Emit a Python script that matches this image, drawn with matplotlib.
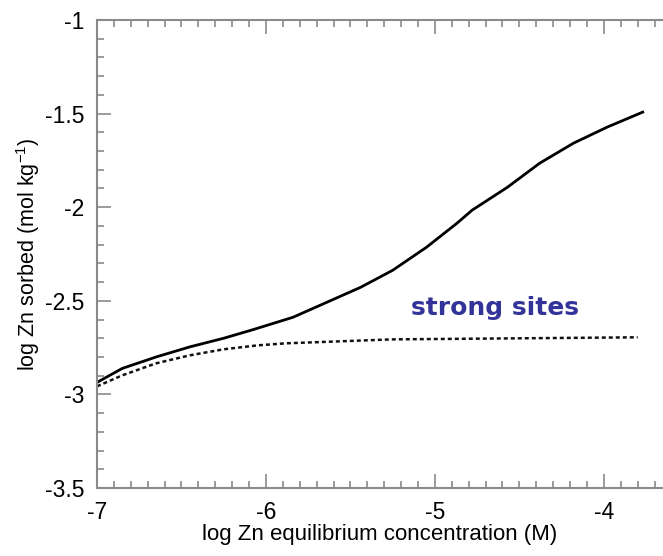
import numpy as np
import matplotlib.pyplot as plt
from matplotlib.ticker import MultipleLocator

# valeurs
x_total = [-7.0, -6.85, -6.65, -6.45, -6.25, -6.08, -5.84, -5.64, -5.44, -5.25,
           -5.05, -4.87, -4.78, -4.57, -4.38, -4.18, -3.98, -3.77]
y_total = [-2.936, -2.861, -2.80, -2.746, -2.70, -2.655, -2.588, -2.508, -2.428, -2.337,
           -2.214, -2.086, -2.016, -1.893, -1.765, -1.658, -1.572, -1.492]

x_strong = [-7.0, -6.85, -6.65, -6.45, -6.25, -6.05, -5.88, -5.25, -4.46, -3.8]
y_strong = [-2.957, -2.898, -2.834, -2.791, -2.759, -2.738, -2.727, -2.706, -2.70, -2.695]

plt.rcParams['font.family'] = ['Liberation Sans', 'DejaVu Sans']

fig = plt.figure(figsize=(6.63, 5.56), dpi=100)
ax = fig.add_axes([0.1463, 0.1223, 0.8537, 0.8417])

ax.plot(x_total, y_total, color='black', lw=2.0)
ax.plot(x_strong, y_strong, color='#111111', lw=1.8, linestyle=(0, (1.6, 1.2)))

ax.text(-4.645, -2.54, 'strong sites', color='#333399', fontsize=18,
        fontweight='bold', family='DejaVu Sans', ha='center', va='center')

ax.set_xlim(-7, -3.65)
ax.set_ylim(-3.5, -1)
ax.xaxis.set_minor_locator(MultipleLocator(0.1))
ax.yaxis.set_minor_locator(MultipleLocator(0.1))
ax.set_xticks([-7, -6, -5, -4])
ax.set_xticklabels(['-7', '-6', '-5', '-4'])
ax.set_yticks([-3.5, -3, -2.5, -2, -1.5, -1])
ax.set_yticklabels(['-3.5', '-3', '-2.5', '-2', '-1.5', '-1'])

ax.spines['right'].set_visible(False)
for s in ['left', 'top', 'bottom']:
    ax.spines[s].set_color('#8a8a8a')
    ax.spines[s].set_linewidth(1.5)

ax.tick_params(which='both', direction='in', top=True, right=False, color='#8a8a8a',
               labelsize=16.5, width=1.2)
ax.tick_params(which='major', length=10, pad=9)
ax.tick_params(which='minor', length=5)

ax.set_xlabel('log Zn equilibrium concentration (M)', fontsize=16)
ax.set_ylabel('log Zn sorbed (mol kg$^{\\mathregular{-1}}$)', fontsize=15.5)
ax.xaxis.set_label_coords(0.5, -0.1)
ax.yaxis.set_label_coords(-0.122, 0.5)
ax.xaxis.label.set_va('center')
ax.yaxis.label.set_va('center')

fig.savefig('out.png', dpi=100)
